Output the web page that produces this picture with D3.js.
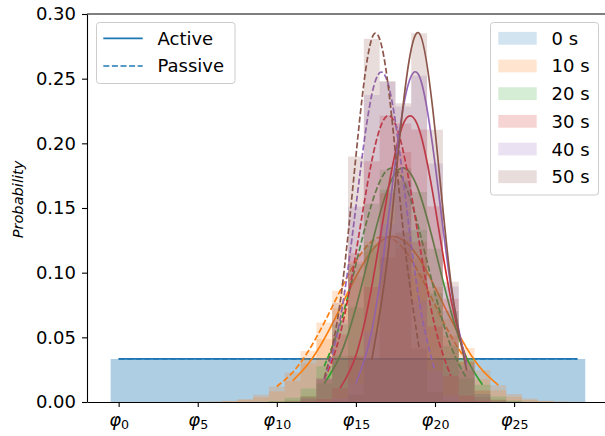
<!DOCTYPE html>
<html>
<head>
<meta charset="utf-8">
<script src="https://cdn.jsdelivr.net/npm/d3@7"></script>
<style>
  body { margin: 0; background: #fff; }
  svg { display: block; font-family: "DejaVu Sans", sans-serif; }
</style>
</head>
<body>
<svg width="605" height="436"></svg>
<script>
// ======================================== DATA ======================================== //
var times = ["0 s", "10 s", "20 s", "30 s", "40 s", "50 s"];
var colors = ["#1f77b4", "#ff7f0e", "#2ca02c", "#d62728", "#9467bd", "#8c564b"];
var bins = [0, 1, 2, 3, 4, 5, 6, 7, 8, 9, 10, 11, 12, 13, 14, 15, 16, 17, 18, 19, 20, 21, 22, 23, 24, 25, 26, 27, 28, 29];
var xTicks = [0, 5, 10, 15, 20, 25];
var yTicks = [0, 0.05, 0.10, 0.15, 0.20, 0.25, 0.30];
var lineNames = ["Active", "Passive"];

// probability per bin (phi_0 ... phi_29)
var active0s  = [0.0333, 0.0333, 0.0333, 0.0333, 0.0333, 0.0333, 0.0333, 0.0333, 0.0333, 0.0333, 0.0333, 0.0333, 0.0333, 0.0333, 0.0333, 0.0333, 0.0333, 0.0333, 0.0333, 0.0333, 0.0333, 0.0333, 0.0333, 0.0333, 0.0333, 0.0333, 0.0333, 0.0333, 0.0333, 0.0333];
var passive0s = [0.0333, 0.0333, 0.0333, 0.0333, 0.0333, 0.0333, 0.0333, 0.0333, 0.0333, 0.0333, 0.0333, 0.0333, 0.0333, 0.0333, 0.0333, 0.0333, 0.0333, 0.0333, 0.0333, 0.0333, 0.0333, 0.0333, 0.0333, 0.0333, 0.0333, 0.0333, 0.0333, 0.0333, 0.0333, 0.0333];
var active10s  = [0, 0, 0, 0, 0, 0.0001, 0.0002, 0.0005, 0.0015, 0.0036, 0.0081, 0.0163, 0.0297, 0.0488, 0.0724, 0.0968, 0.1169, 0.1273, 0.1251, 0.1109, 0.0887, 0.0640, 0.0417, 0.0245, 0.0130, 0.0062, 0.0027, 0.0010, 0.0004, 0.0001];
var passive10s = [0, 0, 0, 0, 0, 0.0001, 0.0003, 0.0009, 0.0024, 0.0057, 0.0120, 0.0229, 0.0395, 0.0614, 0.0860, 0.1087, 0.1241, 0.1277, 0.1186, 0.0993, 0.0751, 0.0512, 0.0315, 0.0175, 0.0088, 0.0040, 0.0016, 0.0006, 0.0002, 0];
var active20s  = [0, 0, 0, 0, 0, 0, 0, 0, 0, 0, 0.0003, 0.0012, 0.0046, 0.0143, 0.0358, 0.0730, 0.1214, 0.1643, 0.1810, 0.1623, 0.1184, 0.0704, 0.0340, 0.0134, 0.0043, 0.0011, 0.0002, 0, 0, 0];
var passive20s = [0, 0, 0, 0, 0, 0, 0, 0, 0, 0.0002, 0.0008, 0.0032, 0.0104, 0.0277, 0.0602, 0.1065, 0.1533, 0.1796, 0.1713, 0.1330, 0.0841, 0.0433, 0.0181, 0.0062, 0.0017, 0.0004, 0, 0, 0, 0];
var active30s  = [0, 0, 0, 0, 0, 0, 0, 0, 0, 0, 0, 0, 0.0004, 0.0023, 0.0107, 0.0360, 0.0890, 0.1615, 0.2153, 0.2107, 0.1514, 0.0799, 0.0310, 0.0088, 0.0018, 0.0003, 0, 0, 0, 0];
var passive30s = [0, 0, 0, 0, 0, 0, 0, 0, 0, 0, 0.0001, 0.0008, 0.0043, 0.0174, 0.0522, 0.1151, 0.1862, 0.2214, 0.1933, 0.1239, 0.0583, 0.0202, 0.0051, 0.0010, 0.0001, 0, 0, 0, 0, 0];
var active40s  = [0, 0, 0, 0, 0, 0, 0, 0, 0, 0, 0, 0, 0, 0.0003, 0.0025, 0.0144, 0.0546, 0.1372, 0.2284, 0.2522, 0.1844, 0.0894, 0.0287, 0.0061, 0.0009, 0.0001, 0, 0, 0, 0];
var passive40s = [0, 0, 0, 0, 0, 0, 0, 0, 0, 0, 0, 0.0004, 0.0033, 0.0178, 0.0636, 0.1510, 0.2374, 0.2474, 0.1708, 0.0782, 0.0237, 0.0048, 0.0006, 0.0001, 0, 0, 0, 0, 0, 0];
var active50s  = [0, 0, 0, 0, 0, 0, 0, 0, 0, 0, 0, 0, 0, 0, 0.0006, 0.0056, 0.0324, 0.1118, 0.2309, 0.2851, 0.2105, 0.0929, 0.0245, 0.0039, 0.0004, 0, 0, 0, 0, 0];
var passive50s = [0, 0, 0, 0, 0, 0, 0, 0, 0, 0, 0, 0.0002, 0.0027, 0.0186, 0.0768, 0.1899, 0.2808, 0.2482, 0.1311, 0.0414, 0.0078, 0.0009, 0.0001, 0, 0, 0, 0, 0, 0, 0];

// first and last bin covered by the fitted curves
var activeRange  = [[0, 29], [11, 24], [13, 23], [14, 22], [15, 22], [16, 22]];
var passiveRange = [[0, 29], [10, 22], [13, 22], [13, 21], [13, 20], [13, 19]];

var activeSeries  = [active0s, active10s, active20s, active30s, active40s, active50s];
var passiveSeries = [passive0s, passive10s, passive20s, passive30s, passive40s, passive50s];

// ======================================== CHART ======================================== //
var svg = d3.select("svg"),
    histAlpha = 0.2,
    lineWidth = 1.7,
    dash = "6,2.6";

var x = d3.scaleLinear()
    .domain([-2, 31])
    .range([87, 609]);

var y = d3.scaleLinear()
    .domain([0, 0.30])
    .range([402, 14]);

var histArea = d3.area()
    .x(function(d) { return x(d[0]); })
    .y0(y(0))
    .y1(function(d) { return y(d[1]); });

var fitLine = d3.line()
    .x(function(d) { return x(d[0]); })
    .y(function(d) { return y(d[1]); })
    .curve(d3.curveNatural);

// corners of the step outline, one bin is 1 wide
function stepPoints(values) {
    var pts = [];
    values.forEach(function(v, i) {
        pts.push([bins[i] - 0.5, v]);
        pts.push([bins[i] + 0.5, v]);
    });
    return pts;
}

function curvePoints(values, range) {
    return bins
        .map(function(b, i) { return [b, values[i]]; })
        .filter(function(d) { return d[0] >= range[0] && d[0] <= range[1]; });
}

var plot = svg.append("g");

// same order as the plot loop: both histograms, then both curves
times.forEach(function(t, k) {
    [activeSeries[k], passiveSeries[k]].forEach(function(vals) {
        plot.append("path")
            .attr("d", histArea(stepPoints(vals)))
            .attr("fill", colors[k])
            .attr("fill-opacity", histAlpha);
    });
    plot.append("path")
        .attr("d", fitLine(curvePoints(activeSeries[k], activeRange[k])))
        .attr("fill", "none")
        .attr("stroke", colors[k])
        .attr("stroke-width", lineWidth);
    plot.append("path")
        .attr("d", fitLine(curvePoints(passiveSeries[k], passiveRange[k])))
        .attr("fill", "none")
        .attr("stroke", colors[k])
        .attr("stroke-width", lineWidth)
        .attr("stroke-dasharray", dash);
});

// ==================== Axes ==================== //
var yAxis = svg.append("g")
    .attr("transform", "translate(" + x(-2) + ",0)")
    .call(d3.axisLeft(y)
        .tickValues(yTicks)
        .tickFormat(d3.format(".2f"))
        .tickSize(5)
        .tickSizeOuter(0)
        .tickPadding(6));
yAxis.selectAll("text")
    .attr("font-family", "DejaVu Sans")
    .attr("font-size", 18)
    .attr("fill", "#000");

var xAxis = svg.append("g")
    .attr("transform", "translate(0," + y(0) + ")")
    .call(d3.axisBottom(x)
        .tickValues(xTicks)
        .tickSize(5)
        .tickSizeOuter(0));
xAxis.selectAll("text")
    .text(null)
    .attr("y", 24)
    .attr("dy", null)
    .attr("font-family", "DejaVu Sans")
    .attr("font-size", 18)
    .attr("fill", "#000")
    .each(function(d) {
        var txt = d3.select(this);
        txt.append("tspan").attr("font-style", "italic").text("\u03c6");
        txt.append("tspan").attr("font-size", 12.6).attr("dy", 2.5).text(d);
    });

svg.selectAll(".domain, .tick line")
    .attr("stroke", "#000")
    .attr("stroke-width", 1.1);

// top spine
svg.append("line")
    .attr("x1", x(-2)).attr("x2", x(31))
    .attr("y1", y(0.30)).attr("y2", y(0.30))
    .attr("stroke", "#000")
    .attr("stroke-width", 1.1);

svg.append("text")
    .attr("transform", "translate(22.5,199.5) rotate(-90)")
    .attr("text-anchor", "middle")
    .attr("font-style", "italic")
    .attr("font-size", 14.6)
    .text("Probability");

// ==================== Legends ==================== //
var legLines = svg.append("g");
legLines.append("rect")
    .attr("x", 96.5).attr("y", 22.5)
    .attr("width", 138.5).attr("height", 61)
    .attr("rx", 3)
    .attr("fill", "#fff").attr("fill-opacity", 0.8)
    .attr("stroke", "#ccc");
lineNames.forEach(function(name, i) {
    var ly = 38.3 + i * 27.7;
    legLines.append("line")
        .attr("x1", 103.3).attr("x2", 142.7)
        .attr("y1", ly).attr("y2", ly)
        .attr("stroke", colors[0])
        .attr("stroke-width", lineWidth)
        .attr("stroke-dasharray", i == 1 ? dash : null);
    legLines.append("text")
        .attr("x", 157.5).attr("y", ly)
        .attr("dy", "0.36em")
        .attr("font-size", 18)
        .text(name);
});

var legHist = svg.append("g");
legHist.append("rect")
    .attr("x", 490.5).attr("y", 22.5)
    .attr("width", 108).attr("height", 172.5)
    .attr("rx", 3)
    .attr("fill", "#fff").attr("fill-opacity", 0.8)
    .attr("stroke", "#ccc");
times.forEach(function(t, k) {
    var ly = 38.3 + k * 27.68;
    legHist.append("rect")
        .attr("x", 498.3).attr("y", ly - 6.4)
        .attr("width", 38.4).attr("height", 12.8)
        .attr("fill", colors[k])
        .attr("fill-opacity", histAlpha);
    legHist.append("text")
        .attr("x", 551.5).attr("y", ly)
        .attr("dy", "0.36em")
        .attr("font-size", 18)
        .text(t);
});
</script>
</body>
</html>
